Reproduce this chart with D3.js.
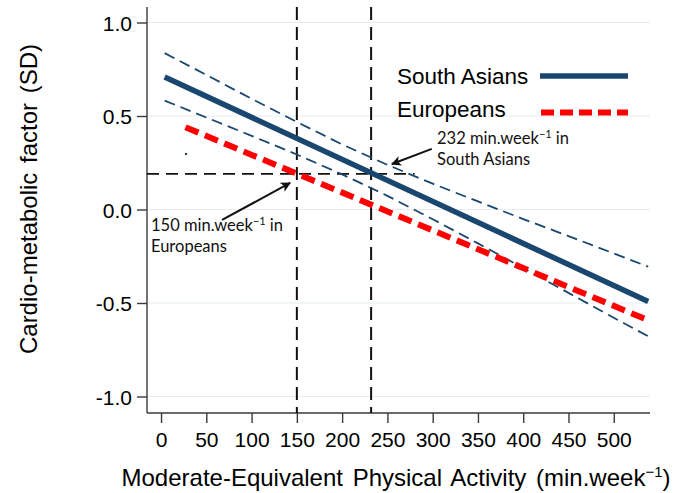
<!DOCTYPE html>
<html><head><meta charset="utf-8">
<script src="https://cdn.jsdelivr.net/npm/d3@7/dist/d3.min.js"></script>
<style>
html,body{margin:0;padding:0;background:#fff;}
svg{display:block;}
</style></head>
<body>
<svg id="chart" width="681" height="493"></svg>
<script>
// ---- data ----
const xTicks = [0,50,100,150,200,250,300,350,400,450,500];
const yTicks = [1.0,0.5,0.0,-0.5,-1.0];
const yTickLabels = ["1.0","0.5","0.0","-0.5","-1.0"];
const ciX = [4,50,100,150,200,250,300,350,400,450,500,538];
const saMain = [[4,0.709],[538,-0.492]];
const saUpper = [0.836,0.720,0.592,0.468,0.348,0.239,0.138,0.043,-0.051,-0.142,-0.235,-0.306];
const saLower = [0.582,0.492,0.394,0.294,0.188,0.073,-0.052,-0.181,-0.313,-0.446,-0.579,-0.678];
const euMain = [[27,0.44],[538,-0.592]];
const thresholdX = [150,232];
const thresholdY = 0.19;
const strayDot = [27.6,0.297];
const seriesNames = ["South Asians","Europeans"];

const svg = d3.select("#chart");
const x = d3.scaleLinear().domain([-15.5,540]).range([147,650]);
const y = d3.scaleLinear().domain([0,1]).range([209.5,22.5]);
const yTop = 7, yBot = 413;

const navy = "#1a476f", red = "#ff0000";

// gridlines
svg.append("g").selectAll("line").data(yTicks).join("line")
  .attr("x1",147).attr("x2",650)
  .attr("y1",d=>y(d)).attr("y2",d=>y(d))
  .attr("stroke","#e3edf3").attr("stroke-width",1.2);

// axes
const yAxis = d3.axisLeft(y).tickValues(yTicks).tickSize(10).tickSizeOuter(0)
  .tickFormat((d,i)=>yTickLabels[i]);
const gy = svg.append("g").attr("transform","translate(147,0)").call(yAxis);
gy.select(".domain").attr("d",`M0,${yTop}V${yBot}`);
const xAxis = d3.axisBottom(x).tickValues(xTicks).tickSize(10).tickSizeOuter(0);
const gx = svg.append("g").attr("transform",`translate(0,${yBot})`).call(xAxis);
gx.select(".domain").attr("d",`M147,0H650`);
[gx,gy].forEach(g=>{
  g.select(".domain").attr("stroke","#3a3a3a").attr("stroke-width",1.4);
  g.selectAll(".tick line").attr("stroke","#3a3a3a").attr("stroke-width",1.4);
  g.selectAll(".tick text").attr("font-family","Liberation Sans, Arial, sans-serif")
    .attr("font-size",21).attr("fill","#000");
});
gy.selectAll(".tick text").attr("x",-15).attr("dy","0.36em");
gx.selectAll(".tick text").attr("y",19).attr("dy","0.71em");

// threshold dashed lines
svg.append("g").selectAll("line").data(thresholdX).join("line")
  .attr("x1",d=>x(d)).attr("x2",d=>x(d)).attr("y1",yTop).attr("y2",yBot)
  .attr("stroke","#111").attr("stroke-width",2).attr("stroke-dasharray","13,7");
svg.append("line")
  .attr("x1",147).attr("x2",x(280)).attr("y1",y(thresholdY)).attr("y2",y(thresholdY))
  .attr("stroke","#111").attr("stroke-width",1.8).attr("stroke-dasharray","12,7");

const line = d3.line().x(d=>x(d[0])).y(d=>y(d[1]));
// CI lines
[saUpper,saLower].forEach(arr=>{
  svg.append("path").datum(ciX.map((v,i)=>[v,arr[i]])).attr("d",line)
    .attr("fill","none").attr("stroke",navy).attr("stroke-width",1.8)
    .attr("stroke-dasharray","11,6");
});
// main lines
svg.append("path").datum(saMain).attr("d",line).attr("fill","none")
  .attr("stroke",navy).attr("stroke-width",5.5);
svg.append("path").datum(euMain).attr("d",line).attr("fill","none")
  .attr("stroke",red).attr("stroke-width",6).attr("stroke-dasharray","14,7");
svg.append("circle").attr("cx",x(strayDot[0])).attr("cy",y(strayDot[1])).attr("r",1.2).attr("fill",navy);

// legend
const lg = svg.append("g").attr("font-family","Liberation Sans, Arial, sans-serif").attr("font-size",22.5).attr("fill","#000");
lg.append("text").attr("x",397).attr("y",84).text(seriesNames[0]);
lg.append("text").attr("x",397).attr("y",117).text(seriesNames[1]);
svg.append("line").attr("x1",540).attr("x2",628).attr("y1",76).attr("y2",76)
  .attr("stroke",navy).attr("stroke-width",5.5);
svg.append("line").attr("x1",541).attr("x2",628).attr("y1",112.5).attr("y2",112.5)
  .attr("stroke",red).attr("stroke-width",6).attr("stroke-dasharray","13,6");

// axis titles
svg.append("text").attr("transform","translate(37,199) rotate(-90)")
  .attr("text-anchor","middle").attr("font-family","Liberation Sans, Arial, sans-serif")
  .attr("font-size",24).attr("word-spacing",3).attr("fill","#000")
  .text("Cardio-metabolic factor (SD)");
const xt = svg.append("text").attr("x",396).attr("y",486)
  .attr("text-anchor","middle").attr("font-family","Liberation Sans, Arial, sans-serif")
  .attr("font-size",24).attr("word-spacing",3).attr("fill","#000");
xt.append("tspan").text("Moderate-Equivalent Physical Activity (min.week");
xt.append("tspan").attr("font-size",15).attr("dy",-9).text("\u22121");
xt.append("tspan").attr("dy",9).text(")");

// annotations
function annot(xp,yp,num,who){
  const t = svg.append("text").attr("font-family","Lato, Open Sans, sans-serif")
    .attr("font-size",16.5).attr("fill","#111");
  const l1 = t.append("tspan").attr("x",xp).attr("y",yp);
  l1.text(num+" min.week");
  t.append("tspan").attr("font-size",11).attr("dy",-6).text("\u22121");
  t.append("tspan").attr("dy",6).text(" in");
  t.append("tspan").attr("x",xp).attr("y",yp+21).text(who);
}
annot(437,144,"232","South Asians");
annot(151,231,"150","Europeans");

// arrows
svg.append("defs").append("marker").attr("id","ah").attr("viewBox","0 0 10 10")
  .attr("refX",9).attr("refY",5).attr("markerWidth",5).attr("markerHeight",5)
  .attr("orient","auto").attr("markerUnits","strokeWidth")
  .append("path").attr("d","M0,0L10,5L0,10L2.5,5Z").attr("fill","#111");
const arrows = [[[299,0.324],[255,0.243]],[[67.4,-0.056],[142.5,0.142]]];
svg.append("g").selectAll("line").data(arrows).join("line")
  .attr("x1",d=>x(d[0][0])).attr("y1",d=>y(d[0][1]))
  .attr("x2",d=>x(d[1][0])).attr("y2",d=>y(d[1][1]))
  .attr("stroke","#111").attr("stroke-width",2).attr("marker-end","url(#ah)");
</script>
</body></html>
